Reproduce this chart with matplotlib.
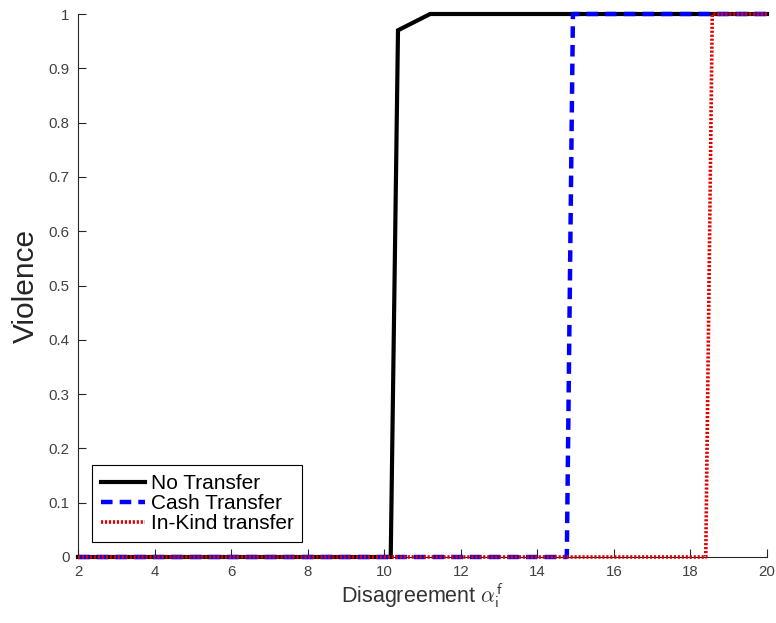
import matplotlib
matplotlib.use("Agg")
import matplotlib.pyplot as plt

plt.rcParams['font.family'] = ['Liberation Sans', 'DejaVu Sans']
plt.rcParams['mathtext.fontset'] = 'cm'

# Probability of violence against disagreement level
x_none = [2, 10.17, 10.36, 11.2, 20]
y_none = [0, 0, 0.97, 1, 1]

x_cash = [2, 14.77, 14.93, 20]
y_cash = [0, 0, 1, 1]

x_kind = [2, 18.4, 18.57, 20]
y_kind = [0, 0, 1, 1]

labels = ["No Transfer", "Cash Transfer", "In-Kind transfer"]
xticks = [2, 4, 6, 8, 10, 12, 14, 16, 18, 20]
yticks = [0, 0.1, 0.2, 0.3, 0.4, 0.5, 0.6, 0.7, 0.8, 0.9, 1]

fig = plt.figure(figsize=(7.76, 6.23), dpi=100)
ax = fig.add_axes([78 / 776, 1 - 557 / 623, 689 / 776, 543 / 623])

ax.plot(x_none, y_none, color="black", lw=3.0, solid_joinstyle="miter",
        label=labels[0], zorder=3, clip_on=False)
ax.plot(x_cash, y_cash, color="#0000ff", lw=3.2, linestyle=(0, (2.6, 1.6)),
        label=labels[1], zorder=4, clip_on=False)
ax.plot(x_kind, y_kind, color="#e00000", lw=2.6, linestyle=(0, (0.6, 0.5)),
        label=labels[2], zorder=5, clip_on=False)

ax.set_xlim(2, 20)
ax.set_ylim(0, 1)
ax.set_xticks(xticks)
ax.set_xticklabels([str(t) for t in xticks])
ax.set_yticks(yticks)
ax.set_yticklabels(["0" if t == 0 else ("1" if t == 1 else f"{t:g}") for t in yticks])

for s in ("top", "right"):
    ax.spines[s].set_visible(False)
for s in ("left", "bottom"):
    ax.spines[s].set_color("#262626")
    ax.spines[s].set_linewidth(0.8)
ax.tick_params(direction="in", length=6, width=0.8, colors="#262626", labelsize=10.8, pad=6)
for lab in ax.get_xticklabels() + ax.get_yticklabels():
    lab.set_color("#404040")

ax.set_xlabel(r"Disagreement $\alpha_{\mathsf{i}}^{\mathsf{f}}$", fontsize=15.5,
              color="#333333", labelpad=2)
ax.set_ylabel("Violence", fontsize=21.5, color="#262626", labelpad=6)

leg = ax.legend(loc="lower left", bbox_to_anchor=(14 / 689, 15 / 543), fontsize=15,
                fancybox=False, edgecolor="black", framealpha=1, borderpad=0.42,
                handlelength=2.1, handletextpad=0.3, labelspacing=0.05, borderaxespad=0)
leg.get_frame().set_linewidth(0.8)

fig.savefig("out.png", dpi=100)
